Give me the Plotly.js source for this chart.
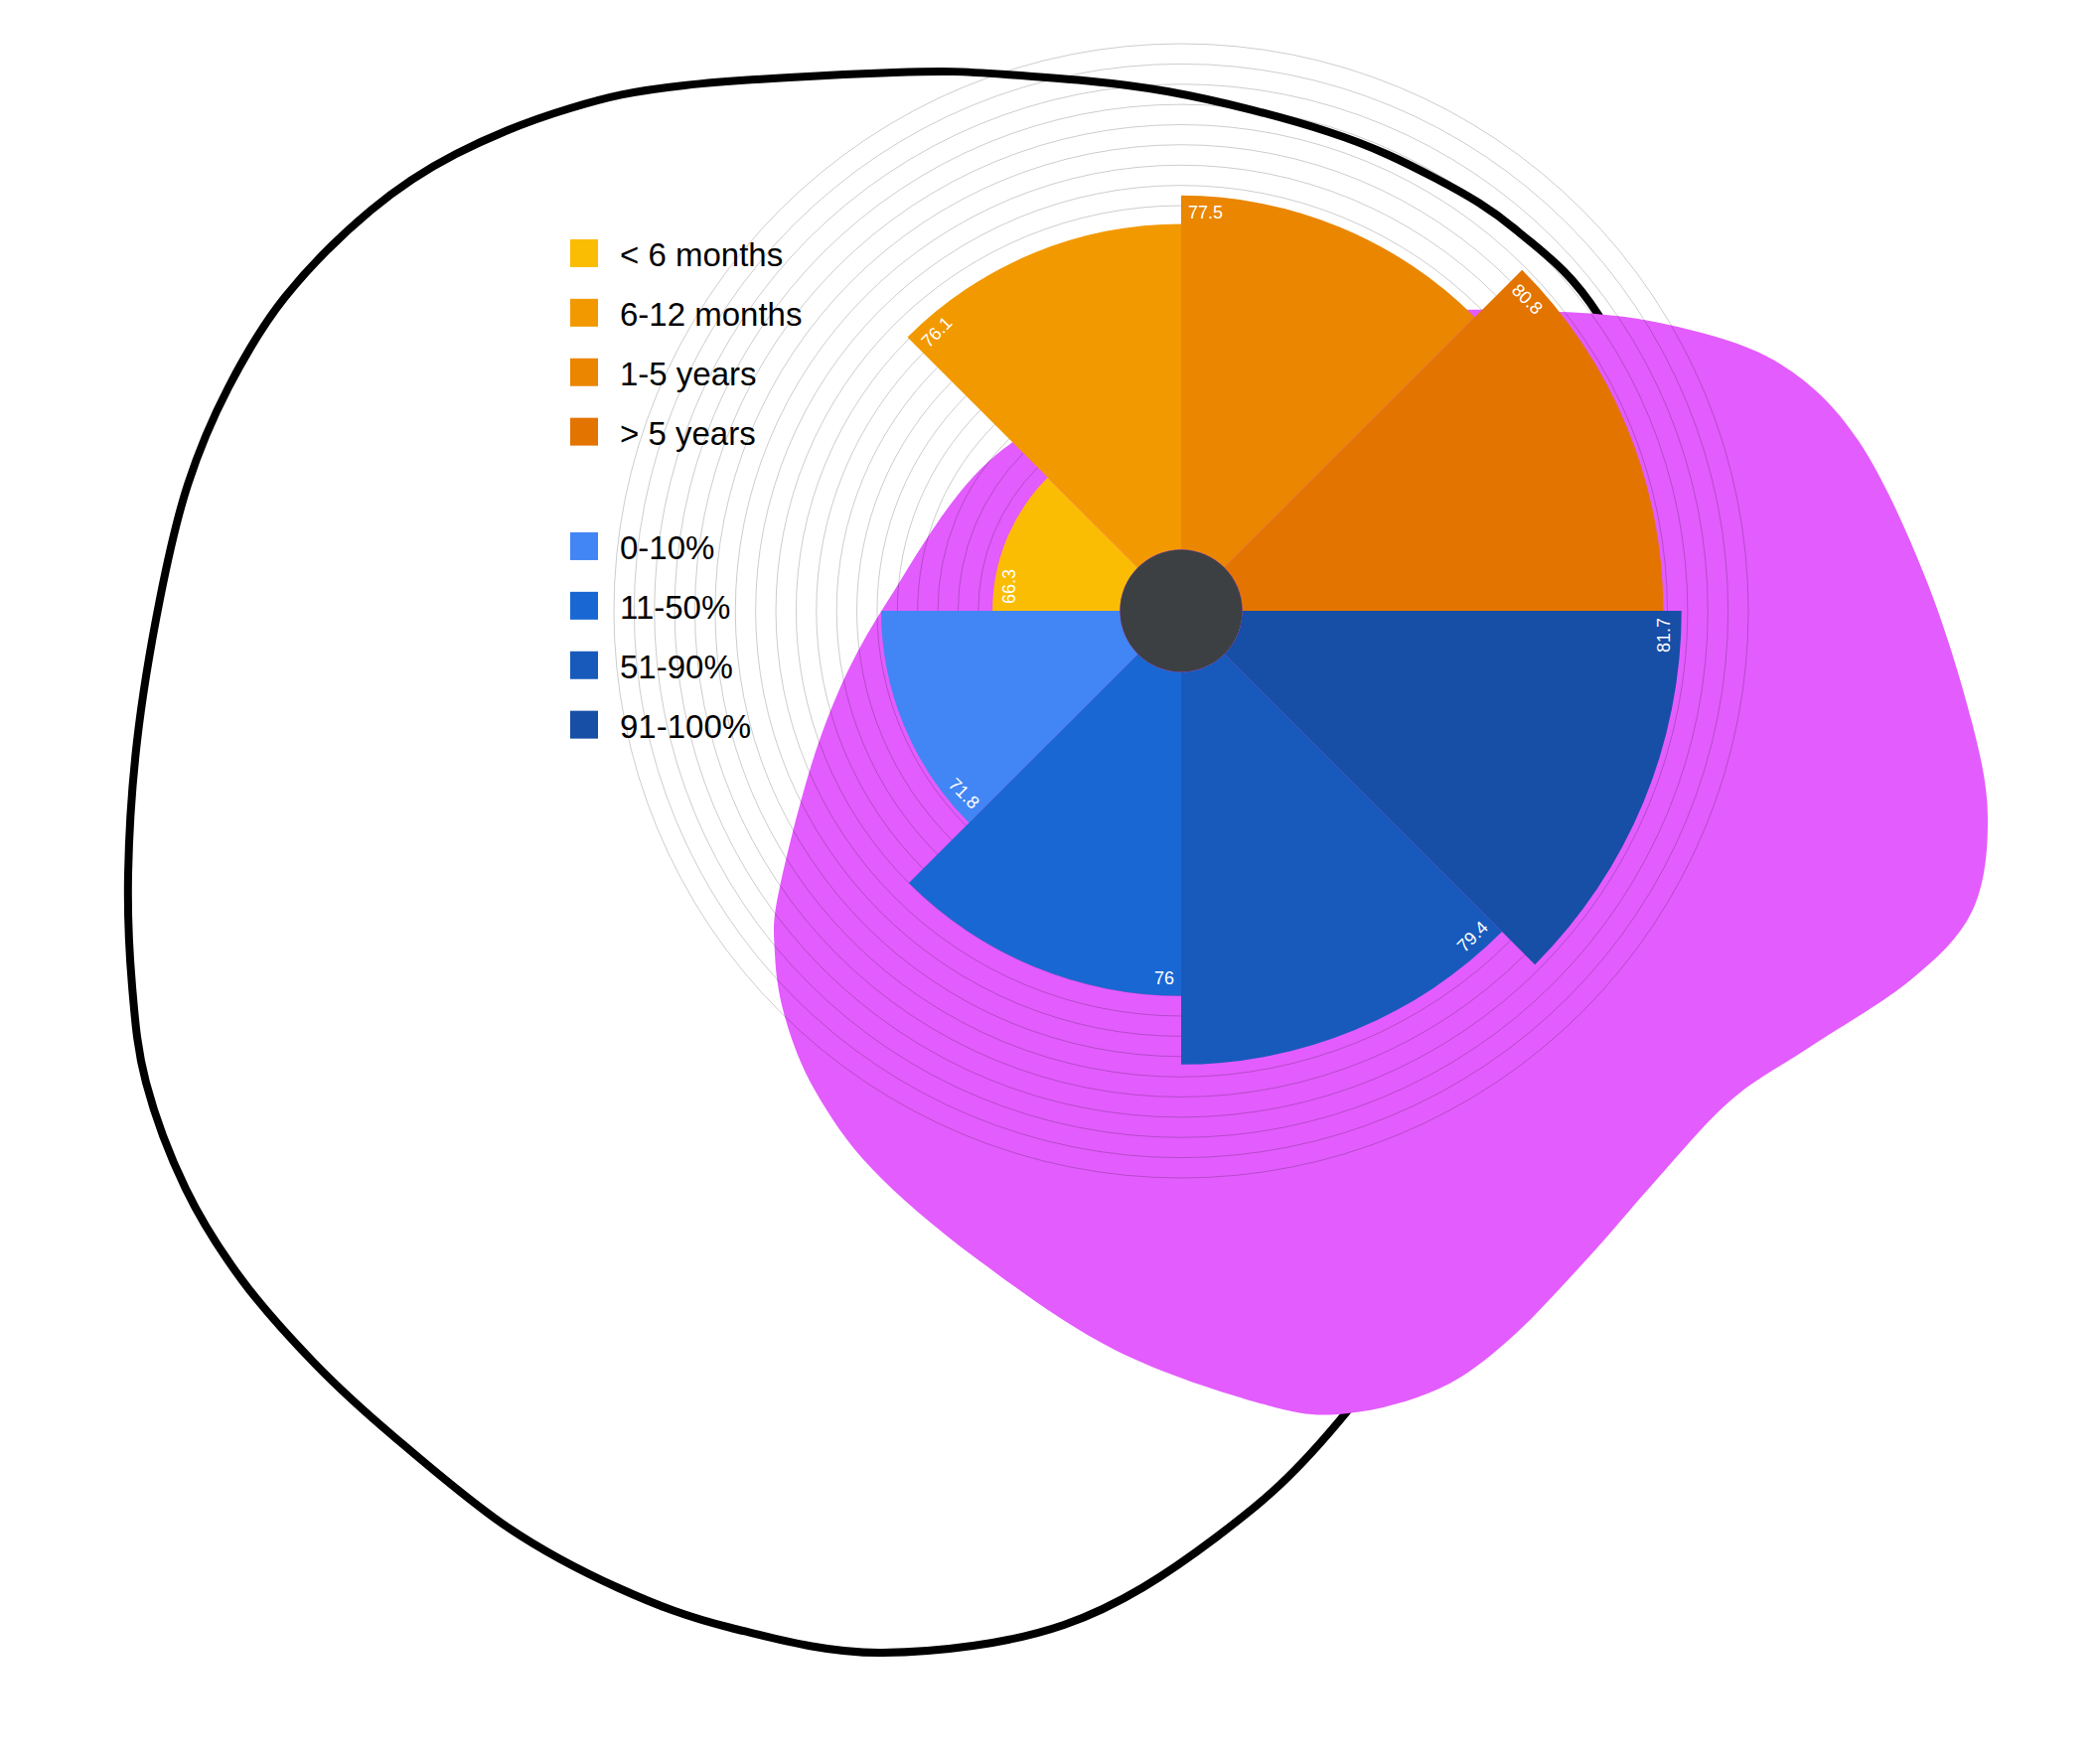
<!DOCTYPE html>
<html>
<head>
<meta charset="utf-8">
<script src="https://cdn.plot.ly/plotly-3.0.1.min.js"></script>
<style>
  html, body { margin: 0; padding: 0; background: #fff; }
  #chart { width: 2114px; height: 1768px; }
</style>
</head>
<body>
<div id="chart"></div>
<script>
// Data
const tenureLabels = ['< 6 months', '6-12 months', '1-5 years', '> 5 years'];
const tenureValues = [66.3, 76.1, 77.5, 80.8];
const shareLabels = ['0-10%', '11-50%', '51-90%', '91-100%'];
const shareValues = [71.8, 76, 79.4, 81.7];

// Colours
const tenureColors = ['#fbbc04', '#f29900', '#ea8600', '#e37400'];
const shareColors = ['#4285f4', '#1967d2', '#185abc', '#174ea6'];

// Page and polar geometry (pixels)
const W = 2114, H = 1768;
const cx = 1189, cy = 615, R = 571, holePx = 61.5;
const sectorWidth = 45;
const labelSize = 18;

const gd = document.getElementById('chart');

// turn pixel points into a smooth closed path in paper coords
function smoothPath(pts) {
    const n = pts.length;
    const P = pts.map(p => [p[0] / W, 1 - p[1] / H]);
    let d = 'M' + P[0][0] + ',' + P[0][1];
    for (let i = 0; i < n; i++) {
        const p0 = P[(i - 1 + n) % n], p1 = P[i], p2 = P[(i + 1) % n], p3 = P[(i + 2) % n];
        const c1 = [p1[0] + (p2[0] - p0[0]) / 6, p1[1] + (p2[1] - p0[1]) / 6];
        const c2 = [p2[0] - (p3[0] - p1[0]) / 6, p2[1] - (p3[1] - p1[1]) / 6];
        d += 'C' + c1.join(',') + ' ' + c2.join(',') + ' ' + p2.join(',');
    }
    return d + 'Z';
}

// decorative blobs behind the chart
const outlinePts = [
    [1609, 317], [1528, 233], [1446, 180], [1338, 133], [1175, 92], [1013, 75],
    [900, 73], [689, 86], [574, 109], [459, 155], [373, 212], [287, 299],
    [230, 390], [189, 488], [161, 603], [138, 746], [129, 880], [133, 993],
    [147, 1090], [187, 1197], [243, 1288], [317, 1373], [396, 1446], [510, 1537],
    [623, 1599], [736, 1639], [888, 1664], [1071, 1636], [1224, 1548], [1357, 1420],
    [1550, 1150], [1700, 800], [1700, 500]
];
const blobPts = [
    [1570, 314], [1689, 329], [1793, 367], [1871, 444], [1938, 581], [1985, 727],
    [2001, 826], [1985, 918], [1923, 987], [1819, 1056], [1741, 1109], [1663, 1193],
    [1600, 1265], [1520, 1348], [1449, 1398], [1357, 1423], [1276, 1415], [1122, 1359],
    [980, 1265], [878, 1177], [821, 1099], [791, 1027], [780, 960], [785, 893],
    [829, 734], [893, 606], [1010, 452], [1200, 370], [1400, 318]
];

// bar traces
let traces = [];
let labelTheta = [], labelR = [], labelText = [], labelPos = [], labelRot = [], labelFlip = [];

function addBar(name, value, color, theta, legend, group) {
    traces.push({
        type: 'barpolar',
        name: name,
        r: [value],
        theta: [theta],
        width: [sectorWidth],
        marker: { color: color, line: { width: 0 } },
        legend: legend,
        legendgroup: group,
        hoverinfo: 'name+r'
    });
    // value label sits at the counterclockwise edge of the sector
    const edge = theta + sectorWidth / 2;
    let rot = 90 - edge;
    while (rot < -90) rot += 360;
    while (rot >= 270) rot -= 360;
    const flip = rot > 60;
    if (flip) rot -= 180;
    labelTheta.push(edge);
    labelR.push(value - 0.85);
    labelText.push(String(value));
    labelPos.push(flip ? 'middle left' : 'middle right');
    labelRot.push(rot);
    labelFlip.push(flip);
}

tenureLabels.forEach((name, i) => {
    addBar(name, tenureValues[i], tenureColors[i], 180 - sectorWidth / 2 - i * sectorWidth, 'legend', 't' + i);
});
shareLabels.forEach((name, j) => {
    addBar(name, shareValues[j], shareColors[j], 180 + sectorWidth / 2 + j * sectorWidth, 'legend2', 's' + j);
});

traces.push({
    type: 'scatterpolar',
    mode: 'text',
    r: labelR,
    theta: labelTheta,
    text: labelText,
    textposition: labelPos,
    textfont: { size: labelSize, color: '#ffffff', family: 'Liberation Sans, Arial, sans-serif' },
    showlegend: false,
    hoverinfo: 'skip'
});

const legendStyle = {
    xanchor: 'left',
    yanchor: 'top',
    font: { size: 33, color: '#000000', family: 'Liberation Sans, Arial, sans-serif' },
    itemwidth: 62,
    tracegroupgap: 14,
    traceorder: 'grouped',
    bgcolor: 'rgba(0,0,0,0)',
    borderwidth: 0
};

let layout = {
    width: W,
    height: H,
    margin: { l: 0, r: 0, t: 0, b: 0 },
    paper_bgcolor: '#ffffff',
    font: { family: 'Liberation Sans, Arial, sans-serif' },
    showlegend: true,
    polar: {
        domain: {
            x: [(cx - R) / W, (cx + R) / W],
            y: [1 - (cy + R) / H, 1 - (cy - R) / H]
        },
        hole: holePx / R,
        bgcolor: 'rgba(0,0,0,0)',
        radialaxis: {
            range: [60, 85],
            tick0: 60,
            dtick: 1,
            showticklabels: false,
            ticks: '',
            showline: false,
            gridcolor: 'rgba(0,0,0,0.2)',
            gridwidth: 1
        },
        angularaxis: {
            direction: 'counterclockwise',
            rotation: 0,
            showgrid: false,
            showticklabels: false,
            ticks: '',
            showline: true,
            linecolor: 'rgba(0,0,0,0.2)',
            linewidth: 1
        }
    },
    legend: Object.assign({ x: 552 / W, y: 1 - 227 / H }, legendStyle),
    legend2: Object.assign({ x: 552 / W, y: 1 - 522 / H }, legendStyle),
    shapes: [
        {
            type: 'path', xref: 'paper', yref: 'paper', layer: 'below',
            path: smoothPath(outlinePts),
            fillcolor: 'rgba(0,0,0,0)',
            line: { color: '#000000', width: 8 }
        },
        {
            type: 'path', xref: 'paper', yref: 'paper', layer: 'below',
            path: smoothPath(blobPts),
            fillcolor: '#e35cfd',
            line: { width: 0 }
        },
        {
            type: 'circle', xref: 'paper', yref: 'paper', layer: 'above',
            x0: (cx - holePx) / W, x1: (cx + holePx) / W,
            y0: 1 - (cy + holePx) / H, y1: 1 - (cy - holePx) / H,
            fillcolor: '#3c4043',
            line: { width: 0 }
        }
    ]
};

// rotate value labels along the arc and enlarge legend swatches
function finishUp() {
    const nodes = gd.querySelectorAll('.polarlayer .scatterlayer .textpoint text');
    nodes.forEach((el, i) => {
        const x = +el.getAttribute('x');
        const y = +el.getAttribute('y');
        el.parentNode.removeAttribute('transform');
        const gap = labelFlip[i] ? -7 : 7;
        el.setAttribute('transform',
            'rotate(' + labelRot[i] + ',' + x + ',' + y + ') translate(' + gap + ',' + (0.33 * labelSize) + ')');
    });
    gd.querySelectorAll('.legendpoints path').forEach(p => {
        p.setAttribute('d', 'M14,14H-14V-14H14Z');
    });
}

Plotly.newPlot(gd, traces, layout, { displayModeBar: false }).then(finishUp);
</script>
</body>
</html>
